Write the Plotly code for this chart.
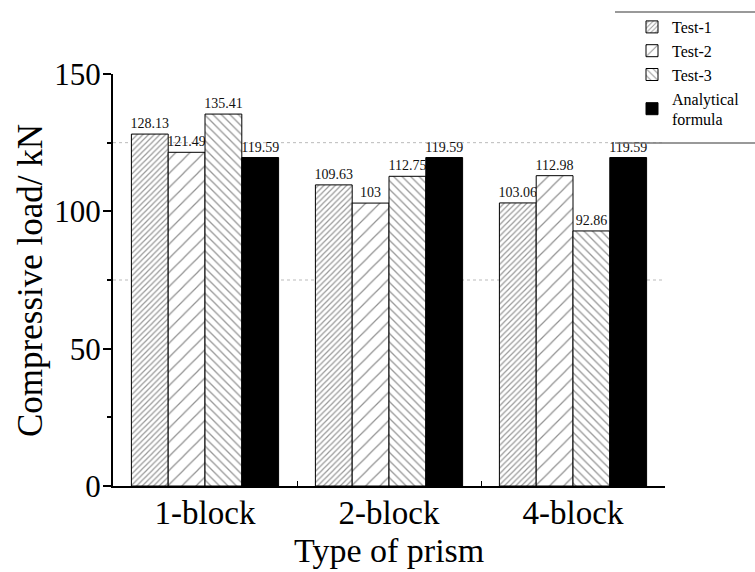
import plotly.graph_objects as go

categories = ["1-block", "2-block", "4-block"]
test1 = [128.13, 109.63, 103.06]
test2 = [121.49, 103, 112.98]
test3 = [135.41, 112.75, 92.86]
analytical = [119.59, 119.59, 119.59]
series_names = ["Test-1", "Test-2", "Test-3", "Analytical<br>formula"]
y_ticks = [0, 50, 100, 150]
grid_levels = [75, 125]
x_title = "Type of prism"
y_title = "Compressive load/ kN"

FONT = "Liberation Serif"
W, H = 755, 572
L, R, T, B = 113, 90, 74, 86
PW, PH = W - L - R, H - T - B


def px(x):
    return (x - L) / PW


def py(y):
    return (H - B - y) / PH


patterns = [
    dict(shape="/", size=4, solidity=0.3, fgcolor="#333333", bgcolor="white"),
    dict(shape="/", size=10, solidity=0.12, fgcolor="#222222", bgcolor="white"),
    dict(shape="\\", size=6, solidity=0.22, fgcolor="#333333", bgcolor="white"),
    None,
]

fig = go.Figure()
for name, vals, pat in zip(series_names, [test1, test2, test3, analytical], patterns):
    marker = dict(color="white" if pat else "black", line=dict(color="black", width=1))
    if pat:
        marker["pattern"] = pat
    fig.add_trace(go.Bar(
        x=categories, y=vals, name=name, marker=marker,
        texttemplate="%{y}", textposition="outside", cliponaxis=False,
        constraintext="none",
        textfont=dict(family=FONT, size=14, color="#111111"),
    ))

for g in grid_levels:
    fig.add_shape(type="line", xref="x domain", yref="y", x0=0, x1=1, y0=g, y1=g,
                  line=dict(color="#bbbbbb", width=1, dash="dot"), layer="below")

# legend frame lines (top and bottom)
for yy in [12, 143]:
    fig.add_shape(type="line", xref="paper", yref="paper",
                  x0=px(615), x1=px(755), y0=py(yy), y1=py(yy),
                  line=dict(color="#777777", width=1.5))

# axis titles
fig.add_annotation(text=x_title, xref="paper", yref="paper", x=0.5, y=py(550),
                   xanchor="center", yanchor="middle", showarrow=False,
                   font=dict(family=FONT, size=34, color="black"))
fig.add_annotation(text=y_title, xref="paper", yref="paper", x=px(30), y=py(281),
                   xanchor="center", yanchor="middle", showarrow=False, textangle=-90,
                   font=dict(family=FONT, size=35, color="black"))

fig.update_layout(
    width=W, height=H,
    margin=dict(l=L, r=R, t=T, b=B, autoexpand=False),
    paper_bgcolor="white", plot_bgcolor="white",
    barmode="group", bargap=0.2, bargroupgap=0,
    font=dict(family=FONT, color="black"),
    showlegend=True,
    legend=dict(
        x=px(632), y=py(10), xanchor="left", yanchor="top",
        font=dict(family=FONT, size=16, color="black"),
        bgcolor="rgba(0,0,0,0)", tracegroupgap=0, traceorder="normal",
    ),
    xaxis=dict(
        showline=True, linecolor="black", linewidth=1.5, mirror=False,
        ticks="inside", tickson="boundaries", ticklen=5, tickcolor="black",
        ticklabelstandoff=-3,
        tickfont=dict(family=FONT, size=33, color="black"),
        showgrid=False, automargin=False,
    ),
    yaxis=dict(
        range=[0, 150], tickvals=y_ticks, showline=True, linecolor="black", linewidth=2,
        ticks="outside", ticklen=8, tickwidth=1.5, tickcolor="black",
        ticklabelstandoff=-4,
        minor=dict(tickvals=[25, 75, 125], ticks="outside", ticklen=4, tickcolor="black", showgrid=False),
        tickfont=dict(family=FONT, size=31, color="black"),
        showgrid=False, zeroline=False, automargin=False,
    ),
)

fig.write_html("out.html")
